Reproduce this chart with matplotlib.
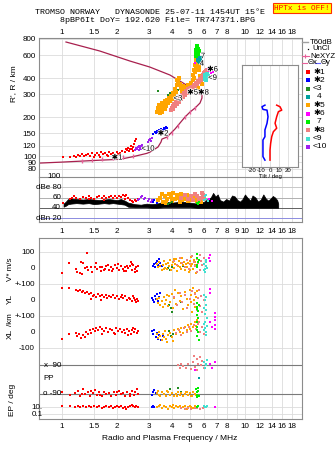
import matplotlib
matplotlib.use("Agg")
import matplotlib.pyplot as plt
import matplotlib.patheffects as pe
from matplotlib.ticker import NullLocator
from matplotlib.transforms import blended_transform_factory
import numpy as np

W, H = 335, 451

# ---------- axes values ----------
FREQ_TICKS = [1, 1.5, 2, 3, 4, 5, 6, 7, 8, 9, 10, 12, 14, 16, 18]
EDGE_LABELS = [1, 1.5, 2, 3, 4, 5, 6, 7, 8, 10, 12, 14, 16, 18]
F_MIN, F_MAX = 0.749, 20.5
HEIGHT_TICKS = [80, 90, 100, 120, 150, 200, 300, 400, 600, 800]
DBE_TICKS = [100, 80, 60, 40, 20]
DBE_LABELS = ["100", "dBe 80", "60", "40", "dBn 20"]

# ---------- electron density profile (MHz, km) ----------
profile = [(0.749, 88.3), (1.0, 89.9), (1.613, 93.0), (2.075, 94.5), (2.444, 99.0),
           (2.91, 105.0), (3.028, 107.4), (3.346, 117.4), (3.475, 128.2), (3.519, 135.3),
           (3.748, 140.2), (4.145, 161.6), (4.414, 179.8), (4.701, 200.0), (5.006, 218.5),
           (5.332, 234.6), (5.678, 256.4), (5.821, 280.3), (5.821, 295.7), (5.537, 306.4)]
topside = [(5.537, 306.4), (5.46, 312), (4.70, 359), (3.89, 422), (3.02, 486),
           (2.35, 541), (1.61, 646), (1.052, 758)]
profile_marks = [(1.29, 92), (1.46, 93.5), (1.65, 95), (1.90, 97), (2.15, 98), (2.44, 100.5),
                 (3.75, 140), (3.99, 150), (4.30, 170), (4.70, 200), (5.00, 218), (5.33, 235)]

# ---------- ionogram echoes (MHz, virtual range km) ----------
ion_red = [(1.01, 98), (1.11, 98), (1.16, 100), (1.19, 98), (1.22, 102), (1.25, 100), (1.29, 104),
           (1.32, 100), (1.35, 102), (1.39, 104), (1.42, 100), (1.46, 105), (1.49, 98), (1.52, 102),
           (1.55, 105), (1.59, 102), (1.61, 98), (1.63, 107), (1.68, 104), (1.72, 105), (1.76, 102),
           (1.78, 100), (1.81, 107), (1.85, 104), (1.90, 105), (1.95, 102), (2.00, 107), (2.02, 104),
           (2.08, 105), (2.13, 109), (2.21, 107), (2.24, 113), (2.27, 111), (2.29, 115), (2.32, 109),
           (2.35, 113), (2.38, 120), (2.41, 113), (2.44, 117), (2.44, 109), (2.47, 124), (2.51, 131),
           (2.54, 135)]
ion_blue = [(3.14, 148), (3.22, 153), (3.26, 150), (3.30, 156), (3.34, 153), (3.38, 159), (3.43, 156),
            (3.48, 162), (3.52, 156), (3.57, 159), (3.61, 164), (3.66, 162), (3.70, 167), (3.75, 164),
            (3.43, 148), (5.61, 575)]
ion_purple = [(2.51, 111), (2.54, 115), (2.57, 113), (2.60, 117), (2.64, 120), (2.67, 115), (2.70, 120),
              (2.74, 122), (2.77, 117), (2.64, 111), (2.70, 113), (2.95, 128), (2.99, 133), (3.03, 135),
              (3.06, 131), (3.10, 138)]
ion_dkgreen = [(3.34, 318), (3.80, 296), (3.89, 306), (3.99, 301), (4.09, 296), (4.31, 323),
               (4.42, 335), (4.20, 312)]
ion_orange = [(3.30, 218), (3.35, 235), (3.39, 247), (3.43, 226), (3.48, 243), (3.52, 256), (3.56, 235),
              (3.61, 252), (3.66, 266), (3.70, 243), (3.75, 271), (3.80, 256), (3.84, 280), (3.89, 266),
              (3.94, 290), (3.99, 275), (4.04, 306), (4.09, 290), (4.15, 329), (4.20, 312), (4.25, 353),
              (4.25, 386), (4.30, 372), (4.36, 400), (4.41, 359), (4.47, 335), (4.53, 318), (4.58, 347),
              (4.64, 323), (4.70, 341), (4.76, 318), (4.82, 335), (4.88, 353), (4.94, 329), (5.01, 347),
              (5.07, 366), (5.13, 341), (5.20, 386), (5.20, 422), (5.27, 461), (5.27, 400), (5.33, 504),
              (5.33, 445), (5.40, 551), (5.40, 478), (5.47, 591), (5.47, 522), (5.54, 635), (5.54, 551),
              (5.61, 495), (5.68, 571), (5.61, 461), (5.68, 414), (5.75, 386), (5.82, 359), (5.54, 335),
              (5.40, 359), (3.43, 215), (3.52, 220), (3.66, 230)]
ion_salmon = [(3.94, 226), (3.99, 235), (4.04, 243), (4.09, 252), (4.20, 261), (4.30, 270), (4.41, 280),
              (4.53, 296), (4.64, 306), (4.76, 318), (4.88, 329), (5.01, 335), (5.13, 341), (5.27, 353),
              (5.40, 366), (5.54, 379), (5.68, 393), (5.82, 407), (5.90, 422), (5.97, 437), (6.05, 445),
              (6.12, 453), (6.20, 461), (4.04, 230), (4.15, 243), (4.25, 252), (4.36, 261), (4.47, 275),
              (4.58, 285), (4.70, 296), (4.82, 306), (4.94, 318), (5.07, 323), (5.20, 335), (5.33, 347),
              (5.47, 359), (5.61, 372), (5.75, 386), (5.90, 400)]
ion_teal = [(5.54, 581), (5.61, 560), (5.68, 571), (5.61, 541), (5.68, 531), (5.54, 551)]
ion_lime = [(5.40, 658), (5.47, 681), (5.54, 670), (5.40, 623), (5.47, 634), (5.54, 612),
            (5.61, 646), (5.47, 700), (5.40, 591)]
ion_magenta = [(6.28, 469), (6.44, 478), (6.60, 461), (6.68, 445), (6.36, 453), (6.52, 437), (5.33, 522)]
ion_turq = [(6.05, 422), (6.12, 407), (6.20, 429), (6.05, 393), (6.12, 386), (6.28, 414)]

trace_labels = ["✱1", "<10", "✱2", "<3", "✱5✱8", "4", "7", "✱6", "<9"]
trace_label_f = [2.0, 2.95, 3.57, 4.30, 5.54, 5.82, 5.90, 6.65, 6.65]
trace_label_h = [96.5, 113, 148, 276, 306, 512, 585, 462, 398]

# ---------- tilt profile (deg, km) ----------
tilt_y_h = [247, 240, 229, 226, 201, 179, 159, 141, 133, 118, 99, 93]
tilt_y_deg = [-5.6, -8.9, -7.8, -3.3, -2.2, -3.3, -5.6, -5.6, -7.8, -7.8, -7.8, -5.6]
tilt_x_h = [247, 240, 226, 220, 201, 179, 164, 154, 141, 125, 111, 93]
tilt_x_deg = [7.4, 11.1, 13.0, 9.3, 7.4, 5.6, 7.4, 3.7, 1.9, 0.7, 0.0, 0.0]

# ---------- echo amplitude (MHz, dB) ----------
noise_f = [1.02, 1.05, 1.08, 1.12, 1.2, 1.3, 1.4, 1.5, 1.6, 1.7, 1.8, 1.9, 2.0, 2.1, 2.2, 2.3, 2.5,
           2.7, 2.9, 3.1, 3.3, 3.6, 4.0, 4.5, 5.0, 5.5, 6.0, 6.3, 6.5, 6.7, 6.9, 7.1, 7.3, 7.6, 7.9,
           8.2, 8.5, 8.8, 9.1, 9.4, 9.7, 10.0, 10.3, 10.7, 11.0, 11.4, 11.8, 12.2, 12.6, 13.0, 13.4,
           13.8, 14.2, 14.6, 15.0, 15.2]
noise_lo = [42, 44, 47, 48, 49, 48, 49, 47, 48, 49, 48, 49, 48, 47, 46, 42, 41, 41, 41, 40, 40, 41,
            41, 41, 41, 40, 40, 40, 40, 40, 40, 40, 40, 40, 40, 40, 40, 40, 40, 40, 40, 40, 40, 40,
            40, 40, 40, 40, 40, 40, 40, 40, 40, 40, 40, 40]
noise_hi = [48, 52, 57, 58, 57, 56, 57, 56, 55, 56, 57, 56, 55, 57, 54, 50, 47, 46, 48, 47, 48, 52,
            50, 52, 50, 48, 52, 58, 60, 69, 62, 66, 55, 52, 57, 54, 64, 62, 55, 52, 57, 66, 60, 54,
            64, 60, 52, 56, 66, 58, 54, 58, 63, 60, 55, 48]
amp_red = [(1.01, 49), (1.10, 57), (1.13, 60), (1.16, 62), (1.20, 60), (1.25, 58), (1.30, 61), (1.35, 59),
           (1.40, 62), (1.45, 60), (1.50, 58), (1.55, 61), (1.60, 63), (1.65, 60), (1.70, 62), (1.75, 59),
           (1.80, 61), (1.85, 63), (1.90, 60), (1.95, 62), (2.00, 60), (2.05, 63), (2.10, 61), (2.15, 64),
           (2.20, 62), (2.25, 65), (2.30, 60), (2.35, 56), (2.40, 54), (2.45, 52), (2.50, 55), (2.55, 53),
           (2.60, 57), (2.20, 58), (1.70, 56), (1.40, 57)]
amp_purple = [(2.60, 55), (2.65, 58), (2.70, 61), (2.75, 63), (2.80, 57), (2.85, 60), (2.95, 54),
              (3.00, 58), (3.05, 52), (3.10, 56)]
amp_blue = [(3.15, 52), (3.20, 56), (3.30, 50), (3.40, 54)]
amp_dkgreen = [(3.90, 50), (4.00, 52), (3.80, 48)]
amp_orange = [(3.35, 55), (3.45, 60), (3.55, 52), (3.65, 63), (3.75, 58), (3.85, 66), (3.95, 61),
              (4.05, 68), (4.15, 57), (4.25, 64), (4.35, 60), (4.45, 67), (4.55, 55), (4.65, 62),
              (4.75, 58), (4.85, 65), (4.95, 61), (5.05, 56), (5.15, 63), (5.25, 59), (5.35, 66),
              (5.45, 54), (5.55, 60), (5.65, 57), (5.75, 52), (3.50, 66), (4.00, 53), (4.40, 52),
              (4.90, 53), (3.70, 50)]
amp_salmon = [(4.5, 60), (4.7, 65), (4.9, 58), (5.1, 62), (5.3, 67), (5.5, 63), (5.7, 60), (5.8, 68),
              (5.9, 64), (6.0, 58), (5.6, 55), (5.2, 55)]
amp_lime = [(5.45, 50), (5.55, 47), (5.60, 52), (5.50, 49)]
amp_turq = [(5.95, 56), (6.05, 62), (6.15, 58), (6.25, 53), (6.10, 65)]
amp_magenta = [(6.6, 53), (6.4, 58)]

# ---------- velocity V* (m/s) ----------
v_red = [(1.00, -31), (1.09, 31), (1.19, -6), (1.21, -25), (1.25, -31), (1.29, -38), (1.27, 38),
         (1.30, 31), (1.37, 94), (1.34, 0), (1.37, 6), (1.39, -12), (1.44, 6), (1.46, -25), (1.53, 31),
         (1.52, 6), (1.55, -6), (1.61, 6), (1.64, -19), (1.66, 6), (1.72, -6), (1.75, 12), (1.80, -12),
         (1.85, 6), (1.90, -6), (1.95, 19), (2.00, 0), (2.05, -12), (2.10, 12), (2.15, -6), (2.20, 6),
         (2.25, -19), (2.30, 0), (2.35, 12), (2.40, -12), (2.45, 19), (2.50, -6), (2.55, 6), (2.58, -19),
         (2.60, 12), (2.42, 25), (2.03, 25), (1.78, 19), (1.69, -12), (1.88, -19), (2.18, -19),
         (2.28, 12), (2.52, -25), (2.38, 38)]
v_blue = [(3.14, 12), (3.18, 25), (3.22, 6), (3.26, 31), (3.30, 44), (3.35, 19), (3.40, 56),
          (3.45, 31), (3.50, 12)]
v_dkgreen = [(3.80, 0), (3.90, -12), (4.00, 6), (4.60, 12)]
v_orange = [(3.30, 25), (3.35, 6), (3.40, 38), (3.45, 12), (3.50, -12), (3.55, 19), (3.60, 44),
            (3.65, 0), (3.70, 25), (3.75, -6), (3.80, 31), (3.85, 12), (3.90, 50), (3.95, -12),
            (4.00, 19), (4.05, 38), (4.10, 0), (4.15, 25), (4.20, 56), (4.25, -19), (4.30, 12),
            (4.35, 44), (4.40, 6), (4.45, 31), (4.50, -6), (4.55, 62), (4.60, 19), (4.65, 38),
            (4.70, -12), (4.75, 25), (4.80, 50), (4.85, 6), (4.90, 31), (4.95, -25), (5.00, 44),
            (5.05, 12), (5.10, 69), (5.15, 25), (5.20, -6), (5.25, 50), (5.30, 19), (5.35, 38),
            (5.40, -31), (5.45, 6), (3.60, -6), (4.10, 56), (5.00, -12)]
v_salmon = [(4.10, 44), (4.25, 19), (4.40, 62), (4.55, 31), (4.70, 6), (4.85, 50), (5.00, 25),
            (5.15, 75), (5.25, 38), (5.35, 12), (5.45, 56), (5.55, 31), (5.65, -12), (5.75, 44),
            (5.85, 19), (5.95, 62), (5.70, 81), (4.95, -6), (5.50, -25)]
v_lime = [(5.45, 88), (5.50, 62), (5.55, 38), (5.50, 19), (5.60, 50), (5.45, 6)]
v_turq = [(5.95, 25), (6.05, -6), (6.10, 38), (6.15, 12), (6.05, -25), (6.20, 0), (5.95, -12), (6.10, 50)]
v_magenta = [(6.44, 81), (6.44, 44), (6.40, 62)]

# ---------- reflection point YL (km) ----------
yl_red = [(1.00, 75), (1.09, 75), (1.19, 62), (1.22, 56), (1.25, 62), (1.28, 50), (1.31, 56), (1.34, 44),
          (1.37, 50), (1.41, 38), (1.44, 44), (1.47, 25), (1.50, 31), (1.53, 19), (1.57, 38), (1.61, 25),
          (1.65, 31), (1.69, 19), (1.73, 31), (1.77, 12), (1.81, 25), (1.86, 19), (1.91, 31), (1.96, 12),
          (2.01, 25), (2.06, 6), (2.11, 19), (2.16, 12), (2.21, 25), (2.26, 0), (2.31, 12), (2.36, 6),
          (2.41, -6), (2.46, 12), (2.50, 0), (2.54, -12), (2.58, 6), (2.60, -6), (1.63, 0), (1.45, 6),
          (2.12, 31), (2.45, 25)]
yl_blue = [(3.10, 12), (3.14, 0), (3.18, -12), (3.22, 25), (3.26, 6), (3.30, 38), (3.35, -6),
           (3.40, 19), (3.45, 44)]
yl_dkgreen = [(3.85, -31), (3.95, -50), (4.00, -75), (4.50, -12)]
yl_orange = [(3.30, 6), (3.35, -19), (3.40, 12), (3.45, -31), (3.50, -6), (3.55, -44), (3.60, 19),
             (3.65, -25), (3.70, 0), (3.80, -38), (3.85, 25), (3.90, -12), (4.00, 38), (4.05, -50),
             (4.10, 12), (4.20, -25), (4.30, 44), (4.40, -6), (4.50, 25), (4.60, -56), (4.70, 50),
             (4.80, 6), (4.90, -31), (5.00, 62), (5.05, -12), (5.10, 31), (5.15, -75), (5.20, 75),
             (5.25, 0), (5.30, 44), (5.35, -44), (5.40, 19), (5.45, -94), (5.50, 56), (4.15, 62), (3.75, 31)]
yl_salmon = [(4.10, 19), (4.25, -31), (4.40, 44), (4.55, -12), (4.70, 31), (4.85, -50), (5.00, 6),
             (5.15, 56), (5.25, -25), (5.35, 38), (5.45, -62), (5.55, 12), (5.65, -38), (5.75, 25),
             (5.85, -75), (5.95, 0), (5.60, 62)]
yl_lime = [(5.45, -19), (5.50, -44), (5.55, -69), (5.50, -94), (5.60, -31), (5.45, -56), (5.55, -112)]
yl_turq = [(5.95, 31), (6.05, 0), (6.10, -31), (6.15, -62), (6.05, -88), (6.20, -112), (5.95, -50), (6.10, 19)]
yl_magenta = [(6.86, -81), (6.86, -106), (6.44, 69), (6.44, 44)]

# ---------- reflection point XL (km) ----------
xl_red = [(1.00, -44), (1.09, -12), (1.19, -6), (1.21, -25), (1.24, -12), (1.27, -38), (1.30, -19),
          (1.33, -31), (1.36, 0), (1.39, -12), (1.42, 12), (1.45, -6), (1.48, 19), (1.51, 6), (1.54, 25),
          (1.58, 12), (1.62, 31), (1.66, 19), (1.70, 6), (1.74, 25), (1.78, 0), (1.82, 19), (1.87, 12),
          (1.92, -6), (1.97, 25), (2.02, 6), (2.07, 19), (2.12, 0), (2.17, 12), (2.22, -6), (2.27, 19),
          (2.32, 6), (2.37, -12), (2.42, 12), (2.47, 0), (2.52, 19), (2.56, -6), (2.60, 6), (1.65, -12),
          (1.95, -12), (2.30, -19), (2.45, 25)]
xl_blue = [(3.12, 6), (3.16, -12), (3.20, 12), (3.25, -31), (3.30, -6), (3.35, -44), (3.40, -19),
           (3.48, -50), (3.55, -25)]
xl_dkgreen = [(3.85, 6), (3.95, -25), (4.05, -12)]
xl_orange = [(3.30, -12), (3.35, -38), (3.40, 0), (3.45, -25), (3.50, -50), (3.55, -12), (3.60, -31),
             (3.65, 6), (3.70, -44), (3.80, -19), (3.90, -6), (4.00, -31), (4.10, 12), (4.20, -12),
             (4.30, 19), (4.40, 0), (4.50, 25), (4.60, -6), (4.70, 31), (4.80, 12), (4.90, 44),
             (5.00, 19), (5.10, 50), (5.20, 31), (5.30, 62), (5.40, 38), (5.45, 75), (5.50, 12),
             (4.05, -56), (3.75, -62)]
xl_salmon = [(4.20, -6), (4.35, 12), (4.50, -19), (4.65, 25), (4.80, 0), (4.95, 31), (5.10, 6),
             (5.25, 44), (5.40, 19), (5.55, 50), (5.70, 0), (5.85, 31), (5.95, -12), (5.60, 62)]
xl_lime = [(5.45, 62), (5.50, 31), (5.55, 0), (5.50, -25), (5.60, -50), (5.45, 12)]
xl_turq = [(5.95, 50), (6.05, 25), (6.10, 0), (6.15, -19), (6.05, 62), (6.20, 38), (5.95, 12)]
xl_magenta = [(6.86, 75), (6.86, 44), (6.86, 19), (6.44, 62), (6.60, 31)]

# ---------- polarization PP (deg) ----------
pp_red = [(1.00, -80), (1.10, -95), (1.18, -85), (1.22, -70), (1.26, -100), (1.30, -60), (1.34, -90),
          (1.38, -75), (1.42, -105), (1.47, -85), (1.52, -65), (1.56, -95), (1.60, -80), (1.65, -100),
          (1.70, -75), (1.75, -90), (1.80, -85), (1.86, -100), (1.92, -80), (1.98, -95), (2.04, -70),
          (2.10, -90), (2.16, -85), (2.22, -100), (2.28, -80), (2.34, -90), (2.40, -70), (2.46, -95),
          (2.52, -80), (2.58, -60), (2.60, -90), (1.28, -88), (1.45, -70), (1.62, -95), (2.00, -80),
          (2.35, -100)]
pp_blue = [(3.10, -95), (3.15, -80), (3.20, -65), (3.25, -85)]
pp_dkgreen = [(3.90, -60), (4.30, -55), (4.50, -75)]
pp_orange = [(3.30, -85), (3.40, -95), (3.50, -75), (3.60, -90), (3.70, -100), (3.80, -80), (3.90, -95),
             (4.00, -85), (4.10, -105), (4.20, -90), (4.30, -80), (4.40, -95), (4.50, -85), (4.60, -100),
             (4.70, -90), (4.80, -80), (4.90, -95), (5.00, -85), (5.10, -100), (5.20, -75), (5.30, -90),
             (5.40, -95), (3.45, -105), (3.75, -70), (4.25, -100), (4.75, -75), (5.15, -105), (3.35, -70)]
pp_salmon = [(4.30, 90), (4.40, 75), (4.50, 100), (4.60, 85), (4.75, 70), (4.90, 95), (5.05, 65),
             (5.20, 110), (5.35, 80), (5.45, 130), (5.55, 100), (5.65, 140), (5.75, 90), (5.85, 115),
             (5.95, 75), (5.50, 60), (5.25, 150)]
pp_lime = [(5.40, -60), (5.45, -80), (5.50, -95), (5.55, -70), (5.60, -105), (5.45, -110), (5.55, -50)]
pp_turq = [(6.00, 110), (6.10, 90), (6.20, 120), (6.05, 75), (6.15, 100)]
pp_teal = [(5.60, 10)]
pp_magenta = [(5.30, 60), (6.86, 110), (6.60, 75), (6.44, 95)]

# ---------- EP (deg) ----------
ep_red = [(1.00, 20), (1.10, 20), (1.18, 10), (1.22, 15), (1.26, 10), (1.30, 20), (1.35, 10), (1.40, 15),
          (1.45, 10), (1.50, 20), (1.55, 10), (1.60, 15), (1.65, 5), (1.70, 10), (1.75, 20), (1.80, 10),
          (1.85, 15), (1.90, 5), (1.95, 10), (2.00, 20), (2.05, 10), (2.10, 15), (2.15, 5), (2.20, 10),
          (2.25, 3), (2.30, 10), (2.35, 20), (2.40, 40), (2.45, 15), (2.50, 10), (2.55, 20), (2.60, 10)]
ep_blue = [(3.10, 10), (3.15, 15), (3.20, 10)]
ep_orange = [(3.3, 10), (3.4, 20), (3.5, 5), (3.6, 15), (3.7, 10), (3.8, 3), (3.9, 20), (4.0, 10),
             (4.1, 5), (4.2, 15), (4.3, 10), (4.4, 20), (4.5, 5), (4.6, 10), (4.7, 15), (4.8, 3),
             (4.9, 10), (5.0, 20), (5.1, 10), (5.2, 5), (5.3, 15), (5.4, 10), (3.45, 40), (4.05, 30)]
ep_salmon = [(4.5, 5), (4.7, 3), (4.9, 5), (5.1, 3), (5.3, 5), (5.5, 4), (5.7, 3), (5.9, 5), (6.0, 8)]
ep_lime = [(5.5, 10), (5.55, 15)]
ep_turq = [(6.0, 15), (6.1, 10), (6.2, 20), (6.05, 8)]
ep_magenta = [(6.86, 12)]

# stacked lower panel: each quantity sits on its own baseline
V_BASE, YL_BASE, XL_BASE = 400, 200, 0
PP_BASE = -297
EP_BASE, EP_DECADE = -491, 22.0

LEGEND_LABELS = ["✱1", "✱2", "<3", "4", "✱5", "✱6", "7", "✱8", "<9", "<10"]
LEGEND_COLORS = ["#ff0000", "#0000ff", "#228b22", "#00a0a0", "#ffa500",
                 "#ff00ff", "#00ee00", "#f08080", "#40e0d0", "#a020f0"]
C = dict(zip(["red", "blue", "dkgreen", "teal", "orange", "magenta", "lime", "salmon", "turq",
              "purple"], LEGEND_COLORS))

FRAME = "#8c8c8c"
GRID = "#dcdcdc"
PROFILE_C = "#a8204e"
MARK_C = "#e8609a"
LOW_MS = 1.9

plt.rcParams["font.family"] = ["Liberation Sans", "DejaVu Sans"]
plt.rcParams["font.size"] = 5.8


def unzip(pairs):
    return [p[0] for p in pairs], [p[1] for p in pairs]


def dots(ax, pairs, color, ms=1.7, base=0.0, zorder=3):
    f, v = unzip(pairs)
    ax.plot(f, [base + x for x in v], ls="none", marker="s", ms=ms, mew=0,
            color=color, zorder=zorder)


def box(x0, y0, x1, y1):
    return [x0 / W, 1 - y1 / H, (x1 - x0) / W, (y1 - y0) / H]


def freq_axis(ax, labels):
    ax.set_xscale("log")
    ax.set_xlim(F_MIN, F_MAX)
    ax.set_xticks(FREQ_TICKS)
    ax.set_xticklabels([f"{f:g}" if f in labels else "" for f in FREQ_TICKS])
    ax.xaxis.set_minor_locator(NullLocator())
    ax.grid(True, axis="x", color=GRID, lw=0.6, zorder=0)
    ax.set_axisbelow(True)
    for s in ax.spines.values():
        s.set_color(FRAME)
        s.set_linewidth(0.8)


fig = plt.figure(figsize=(W / 100, H / 100), dpi=100)

# ---- ionogram ----
ax = fig.add_axes(box(39, 38, 302, 177))
freq_axis(ax, EDGE_LABELS)
ax.set_yscale("log")
ax.set_ylim(69, 814)
ax.set_yticks(HEIGHT_TICKS)
ax.set_yticklabels([str(h) for h in HEIGHT_TICKS])
ax.yaxis.set_minor_locator(NullLocator())
ax.grid(True, axis="y", color=GRID, lw=0.6)
ax.tick_params(axis="x", length=0, pad=1.5, labeltop=True, labelbottom=False)
ax.tick_params(axis="y", length=0, pad=2)
ax.spines["bottom"].set_visible(False)

pf, ph = unzip(profile)
ax.plot(pf, ph, color=PROFILE_C, lw=0.9, zorder=2)
tf, th = unzip(topside)
ax.plot(tf, th, color=PROFILE_C, lw=0.9, zorder=2)
mf, mh = unzip(profile_marks)
ax.plot(mf, mh, ls="none", marker=r"$\mathrm{I}$", ms=3.2, color=MARK_C, zorder=2)

dots(ax, ion_red, C["red"])
dots(ax, ion_purple, C["purple"], ms=2.0)
dots(ax, ion_blue, C["blue"])
dots(ax, ion_dkgreen, C["dkgreen"])
dots(ax, ion_orange, C["orange"], ms=2.8)
dots(ax, ion_salmon, C["salmon"], ms=2.5)
dots(ax, ion_teal, C["teal"], ms=2.2)
dots(ax, ion_lime, C["lime"], ms=2.2)
dots(ax, ion_magenta, C["magenta"], ms=2.0)
dots(ax, ion_turq, C["turq"], ms=2.2)
for lab, f, h in zip(trace_labels, trace_label_f, trace_label_h):
    ax.text(f, h, lab, fontsize=5.6, ha="center", va="center", zorder=5,
            path_effects=[pe.withStroke(linewidth=1.0, foreground="white")])

# ---- amplitude strip ----
axd = fig.add_axes(box(39, 177, 302, 222))
freq_axis(axd, FREQ_TICKS)
axd.set_ylim(12.2, 100)
axd.set_yticks([])
axd.tick_params(axis="x", length=0, pad=4)
for val, col in zip(DBE_TICKS, ["#c8c8c8", "#c8c8c8", "#b0b0b0", "#606060", "#8c8ce0"]):
    axd.axhline(val, color=col, lw=0.7, zorder=1)
tr = blended_transform_factory(axd.transAxes, axd.transData)
for val, lab in zip(DBE_TICKS, DBE_LABELS):
    axd.text(0.084, val, lab, transform=tr, ha="right", va="center", fontsize=5.8)
axd.fill_between(noise_f, noise_lo, noise_hi, color="black", lw=0.5, zorder=2)
dots(axd, amp_red, C["red"], ms=2.0)
dots(axd, amp_purple, C["purple"], ms=2.0)
dots(axd, amp_blue, C["blue"], ms=2.0)
dots(axd, amp_orange, C["orange"], ms=2.5)
dots(axd, amp_salmon, C["salmon"], ms=2.5)
dots(axd, amp_dkgreen, C["dkgreen"], ms=2.0)
dots(axd, amp_lime, C["lime"], ms=2.0)
dots(axd, amp_turq, C["turq"], ms=2.0)
dots(axd, amp_magenta, C["magenta"], ms=2.0)

# ---- drift / location / polarization panel ----
axl = fig.add_axes(box(39, 238, 302, 419))
freq_axis(axl, EDGE_LABELS)
axl.set_ylim(-543.75, 587.5)
axl.set_yticks([500, 400, 300, 200, 100, 0, -100])
axl.set_yticklabels(["100", "0", "+-100", "0", "+-100", "0", "-100"])
axl.tick_params(axis="x", length=0, pad=3)
axl.tick_params(axis="y", length=0, pad=3)
for val in [500, 300, 100, -100, EP_BASE + EP_DECADE, EP_BASE - EP_DECADE]:
    axl.axhline(val, color=GRID, lw=0.6, zorder=0)
for val in [PP_BASE + 90, PP_BASE - 90]:
    axl.axhline(val, color="#7a7a7a", lw=0.8, zorder=1)
trl = blended_transform_factory(axl.transAxes, axl.transData)
axl.text(0.084, PP_BASE + 90, "x  90", transform=trl, ha="right", va="center", fontsize=5.8)
axl.text(0.084, PP_BASE - 90, "o -90", transform=trl, ha="right", va="center", fontsize=5.8)
axl.text(0.015, PP_BASE + 5, "PP", transform=trl, ha="left", va="center", fontsize=5.8)
axl.text(0.015, EP_BASE + EP_DECADE, "10.", transform=trl, ha="right", va="center", fontsize=5.8)
axl.text(0.015, EP_BASE - EP_DECADE, "0.1", transform=trl, ha="right", va="center", fontsize=5.8)

groups = [
    (V_BASE, [(v_red, "red"), (v_blue, "blue"), (v_dkgreen, "dkgreen"), (v_orange, "orange"),
              (v_salmon, "salmon"), (v_lime, "lime"), (v_turq, "turq"), (v_magenta, "magenta")]),
    (YL_BASE, [(yl_red, "red"), (yl_blue, "blue"), (yl_dkgreen, "dkgreen"), (yl_orange, "orange"),
               (yl_salmon, "salmon"), (yl_lime, "lime"), (yl_turq, "turq"), (yl_magenta, "magenta")]),
    (XL_BASE, [(xl_red, "red"), (xl_blue, "blue"), (xl_dkgreen, "dkgreen"), (xl_orange, "orange"),
               (xl_salmon, "salmon"), (xl_lime, "lime"), (xl_turq, "turq"), (xl_magenta, "magenta")]),
    (PP_BASE, [(pp_red, "red"), (pp_blue, "blue"), (pp_dkgreen, "dkgreen"), (pp_orange, "orange"),
               (pp_salmon, "salmon"), (pp_lime, "lime"), (pp_turq, "turq"), (pp_teal, "teal"),
               (pp_magenta, "magenta")]),
]
for base, series in groups:
    for pairs, key in series:
        dots(axl, pairs, C[key], ms=LOW_MS, base=base)
for pairs, key in [(ep_red, "red"), (ep_blue, "blue"), (ep_orange, "orange"), (ep_salmon, "salmon"),
                   (ep_lime, "lime"), (ep_turq, "turq"), (ep_magenta, "magenta")]:
    f, e = unzip(pairs)
    axl.plot(f, EP_BASE + EP_DECADE * np.log10(e), ls="none", marker="s", ms=LOW_MS, mew=0,
             color=C[key], zorder=3)

# ---- tilt inset ----
axt = fig.add_axes(box(242, 65, 298, 167))
axt.set_facecolor("white")
axt.set_xlim(-31, 31)
axt.set_yscale("log")
axt.set_ylim(82.3, 504)
axt.set_yticks([])
axt.yaxis.set_minor_locator(NullLocator())
axt.set_xticks([-20, -10, 0, 10, 20])
axt.set_xticklabels(["-20", "-10", "0", "10", "20"])
axt.tick_params(axis="x", length=0, pad=1, labelsize=4.3)
axt.grid(True, axis="x", color=GRID, lw=0.6)
axt.set_xlabel("Tilt / deg", fontsize=4.3, labelpad=0.5)
for s in axt.spines.values():
    s.set_color(FRAME)
    s.set_linewidth(0.8)
axt.plot(tilt_y_deg, tilt_y_h, color="#0000ff", lw=1.1)
axt.plot(tilt_x_deg, tilt_x_h, color="#ff0000", lw=1.1)

# ---- titles, axis labels and legend in pixel space ----
ov = fig.add_axes([0, 0, 1, 1])
ov.set_xlim(0, W)
ov.set_ylim(H, 0)
ov.axis("off")

mono = ["Liberation Mono", "DejaVu Sans Mono"]
ov.text(150, 12, "TROMSO NORWAY   DYNASONDE 25-07-11 1454UT 15°E", family=mono,
        fontsize=6.0, ha="center", va="center")
ov.text(157, 20, "8pBP6It DoY= 192.620 File= TR747371.BPG", family=mono,
        fontsize=6.0, ha="center", va="center")
ov.text(302, 8, "HPTx is OFF!", family=mono, fontsize=5.6, color="#ff0000",
        ha="center", va="center",
        bbox=dict(boxstyle="square,pad=0.2", fc="#ffff00", ec="#ff3000", lw=0.8))

ov.text(14, 84, "R', R / km", rotation=90, ha="center", va="center", fontsize=6)
ov.text(10, 269, "V* m/s", rotation=90, ha="center", va="center", fontsize=5.8)
ov.text(10, 299, "YL", rotation=90, ha="center", va="center", fontsize=6)
ov.text(10, 320, "/km", rotation=90, ha="center", va="center", fontsize=5.8)
ov.text(10, 334, "XL", rotation=90, ha="center", va="center", fontsize=6)
ov.text(13, 400, "EP / deg", rotation=90, ha="center", va="center", fontsize=6)
ov.text(170, 439, "Radio and Plasma Frequency / MHz", ha="center", va="center", fontsize=6)

ov.plot([302, 308], [42, 42], color="#a0a0a0", lw=1.0)
ov.text(310, 42, "T60dB", ha="left", va="center", fontsize=5.6)
ov.plot([308], [49], ls="none", marker="s", ms=0.9, mew=0, color="black")
ov.text(312, 49, "UnCl", ha="left", va="center", fontsize=5.6)
ov.plot([302, 309], [56, 56], color=MARK_C, lw=0.8)
ov.plot([305], [56], ls="none", marker="+", ms=3, mew=0.8, color=MARK_C)
ov.text(310, 56, "NeXYZ", ha="left", va="center", fontsize=5.6)
ov.plot([302, 307], [63, 63], color=MARK_C, lw=0.8)
ov.text(307.5, 63, "Θx", ha="left", va="center", fontsize=5.6)
ov.plot([315, 320], [63, 63], color="#6060ff", lw=0.8)
ov.text(320.5, 63, "Θy", ha="left", va="center", fontsize=5.6)
for i, (lab, col) in enumerate(zip(LEGEND_LABELS, LEGEND_COLORS)):
    y = 72 + 8.33 * i
    ov.plot([308], [y], ls="none", marker="s", ms=2.4, mew=0, color=col)
    x = 317 if len(lab) == 1 else 313
    ov.text(x, y, lab, ha="left", va="center", fontsize=6)

fig.savefig("out.png", dpi=100, facecolor="white")
